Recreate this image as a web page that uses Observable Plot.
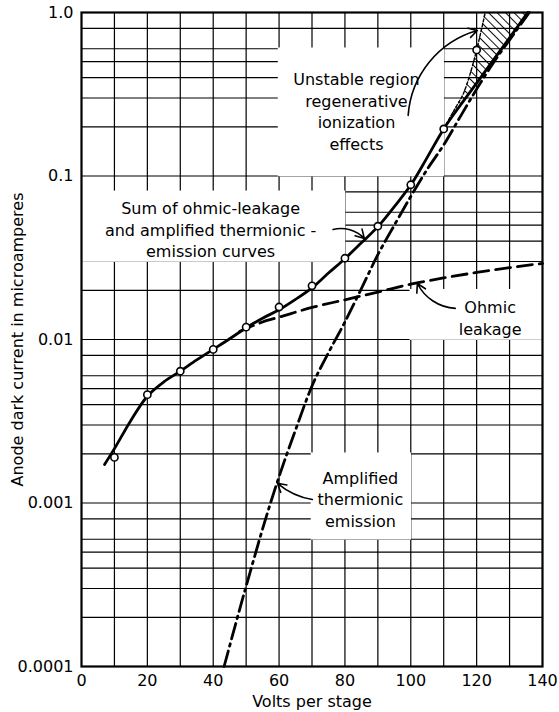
<!DOCTYPE html>
<html><head><meta charset="utf-8">
<script src="https://cdn.jsdelivr.net/npm/d3@7"></script>
<script src="https://cdn.jsdelivr.net/npm/@observablehq/plot@0.6"></script>
<style>body{margin:0;background:#fff;}</style>
</head><body><div id="chart"></div>
<script>
// ---- axes / ticks ----
const xTicks = [0, 20, 40, 60, 80, 100, 120, 140];
const yTicks = [0.0001, 0.001, 0.01, 0.1, 1];
const yTickLabels = ["0.0001", "0.001", "0.01", "0.1", "1.0"];
const xGrid = [10, 20, 30, 40, 50, 60, 70, 80, 90, 100, 110, 120, 130];
const yGrid = [0.0002, 0.0003, 0.0004, 0.0005, 0.0006, 0.0008,
  0.001, 0.002, 0.003, 0.004, 0.005, 0.006, 0.008,
  0.01, 0.02, 0.03, 0.04, 0.05, 0.06, 0.08,
  0.1, 0.2, 0.3, 0.4, 0.5, 0.6, 0.8];

// ---- measured points (open circles) ----
const pointVolts   = [10, 20, 30, 40, 50, 60, 70, 80, 90, 100, 110, 120];
const pointCurrent = [0.0019, 0.0046, 0.0064, 0.0087, 0.0119, 0.0158, 0.0213, 0.0314, 0.0493, 0.0884, 0.194, 0.59];

// ---- sum of ohmic-leakage and amplified thermionic-emission (solid) ----
const sumVolts   = [7, 10, 15, 20, 25, 30, 35, 40, 45, 50, 55, 60, 65, 70, 75, 80, 85, 90, 95, 100, 105, 110, 115, 120, 125, 130, 135.5];
const sumCurrent = [0.00172, 0.00215, 0.0032, 0.0045, 0.0055, 0.0064, 0.0075, 0.0087, 0.0101, 0.0118, 0.0135, 0.0152, 0.0176, 0.0207, 0.0255, 0.0312, 0.039, 0.049, 0.065, 0.088, 0.13, 0.194, 0.27, 0.37, 0.51, 0.70, 1.0];

// ---- ohmic leakage (dashed) ----
const ohmicVolts   = [48, 55, 60, 70, 80, 90, 100, 110, 120, 130, 140];
const ohmicCurrent = [0.0112, 0.0128, 0.0137, 0.0157, 0.0175, 0.0195, 0.0218, 0.0238, 0.0257, 0.0275, 0.0292];

// ---- amplified thermionic emission (dash-dot) ----
const thermVolts   = [43.3, 50, 57.4, 60, 65, 70, 75, 80, 85, 90, 95, 100, 105, 110, 115, 120, 125, 130, 136];
const thermCurrent = [0.0001, 0.00031, 0.001, 0.00145, 0.0028, 0.0052, 0.0083, 0.0128, 0.0205, 0.033, 0.05, 0.075, 0.11, 0.155, 0.23, 0.34, 0.49, 0.68, 1.0];

// ---- unstable region (hatched) ----
const unstableVolts = [110, 112, 114, 116, 118, 120, 122, 122.6, 125, 130, 135.5];
const unstableLow   = [0.194, 0.22, 0.25, 0.28, 0.32, 0.37, 0.42, 0.44, 0.51, 0.70, 1.0];
const unstableHigh  = [0.194, 0.23, 0.27, 0.32, 0.42, 0.59, 0.88, 1.0, 1.0, 1.0, 1.0];
const boundaryVolts   = [110, 112, 114, 116, 118, 120, 122, 122.6];
const boundaryCurrent = [0.194, 0.23, 0.27, 0.32, 0.42, 0.59, 0.88, 1.0];

// ---- annotations ----
const labelText = [
  "Sum of ohmic-leakage\nand amplified thermionic -\nemission curves",
  "Unstable region\nregenerative\nionization\neffects",
  "Ohmic\nleakage",
  "Amplified\nthermionic\nemission"
];
const labelVolts   = [39.2, 83.5, 124.1, 84.7];
const labelCurrent = [0.0475, 0.2515, 0.0137, 0.00107];
const boxX1 = [0, 60, 100, 70];
const boxX2 = [80, 110, 140, 100];
const boxY1 = [0.03, 0.1, 0.01, 0.0006];
const boxY2 = [0.08, 0.6, 0.02, 0.002];
const arrowFromV = [76.4, 99.2, 113.5, 70.1];
const arrowFromC = [0.0471, 0.235, 0.0155, 0.00105];
const arrowToV   = [85.9, 120.2, 102.0, 59.5];
const arrowToC   = [0.0415, 0.776, 0.0220, 0.00132];
const arrowBend  = [30, 35, 30, 15];

const zip = (xs, ys) => xs.map((x, i) => ({x, y: ys[i]}));
const points = zip(pointVolts, pointCurrent);
const sum = zip(sumVolts, sumCurrent);
const ohmic = zip(ohmicVolts, ohmicCurrent);
const therm = zip(thermVolts, thermCurrent);
const unstable = unstableVolts.map((v, i) => ({x: v, lo: unstableLow[i], hi: unstableHigh[i]}));
const boundary = zip(boundaryVolts, boundaryCurrent);
const labels = labelText.map((t, i) => ({t, x: labelVolts[i], y: labelCurrent[i]}));
const boxes = boxX1.map((_, i) => ({x1: boxX1[i], x2: boxX2[i], y1: boxY1[i], y2: boxY2[i]}));
const arrows = arrowFromV.map((_, i) => ({x1: arrowFromV[i], y1: arrowFromC[i], x2: arrowToV[i], y2: arrowToC[i], bend: arrowBend[i]}));

const yLabelOf = d => yTickLabels[Math.round(Math.log10(d)) + 4];

const svg = Plot.plot({
  width: 559, height: 712,
  marginLeft: 81, marginRight: 17, marginTop: 12, marginBottom: 46,
  style: {fontFamily: "DejaVu Sans", fontSize: "16px", background: "white", color: "black"},
  x: {domain: [0, 140]},
  y: {type: "log", domain: [0.0001, 1]},
  marks: [
    Plot.ruleX(xGrid, {stroke: "black", strokeWidth: 1.2}),
    Plot.ruleY(yGrid, {stroke: "black", strokeWidth: 1.2}),
    Plot.rect(boxes, {x1: "x1", x2: "x2", y1: "y1", y2: "y2", fill: "white", inset: -0.8}),
    Plot.areaY(unstable, {x: "x", y1: "lo", y2: "hi", fill: "url(#hatch)", curve: "monotone-x"}),
    Plot.line(boundary, {x: "x", y: "y", stroke: "black", strokeWidth: 1.4, strokeDasharray: "3,2", curve: "monotone-x"}),
    Plot.line(ohmic, {x: "x", y: "y", stroke: "black", strokeWidth: 2.8, strokeDasharray: "15,7", curve: "monotone-x"}),
    Plot.line(therm, {x: "x", y: "y", stroke: "black", strokeWidth: 2.8, strokeDasharray: "16,5,2.5,5", curve: "monotone-x"}),
    Plot.line(sum, {x: "x", y: "y", stroke: "black", strokeWidth: 2.8, curve: "catmull-rom"}),
    Plot.dot(points, {x: "x", y: "y", r: 3.6, fill: "white", stroke: "black", strokeWidth: 1.6}),
    ...arrows.map(a => Plot.arrow([a], {x1: "x1", y1: "y1", x2: "x2", y2: "y2", bend: a.bend, stroke: "black", strokeWidth: 1.6, headLength: 9})),
    Plot.text(labels, {x: "x", y: "y", text: "t", textAnchor: "middle", lineHeight: 1.35, fontSize: 16, fill: "black"}),
    Plot.axisX(xTicks, {tickSize: 0, tickPadding: 8, fontSize: 16, label: "Volts per stage", labelAnchor: "center", labelOffset: 40, labelArrow: "none"}),
    Plot.axisY(yTicks, {tickSize: 0, tickPadding: 8, fontSize: 16, tickFormat: yLabelOf, label: "Anode dark current in microamperes", labelAnchor: "center", labelOffset: 70, labelArrow: "none"}),
    Plot.frame({stroke: "black", strokeWidth: 2.2})
  ]
});

const defs = d3.select(svg).insert("defs", ":first-child");
const pat = defs.append("pattern").attr("id", "hatch").attr("width", 6).attr("height", 6)
  .attr("patternUnits", "userSpaceOnUse").attr("patternTransform", "rotate(-45)");
pat.append("line").attr("x1", 0).attr("y1", 0).attr("x2", 0).attr("y2", 6).attr("stroke", "black").attr("stroke-width", 1.9);

document.getElementById("chart").appendChild(svg);
</script>
</body></html>
